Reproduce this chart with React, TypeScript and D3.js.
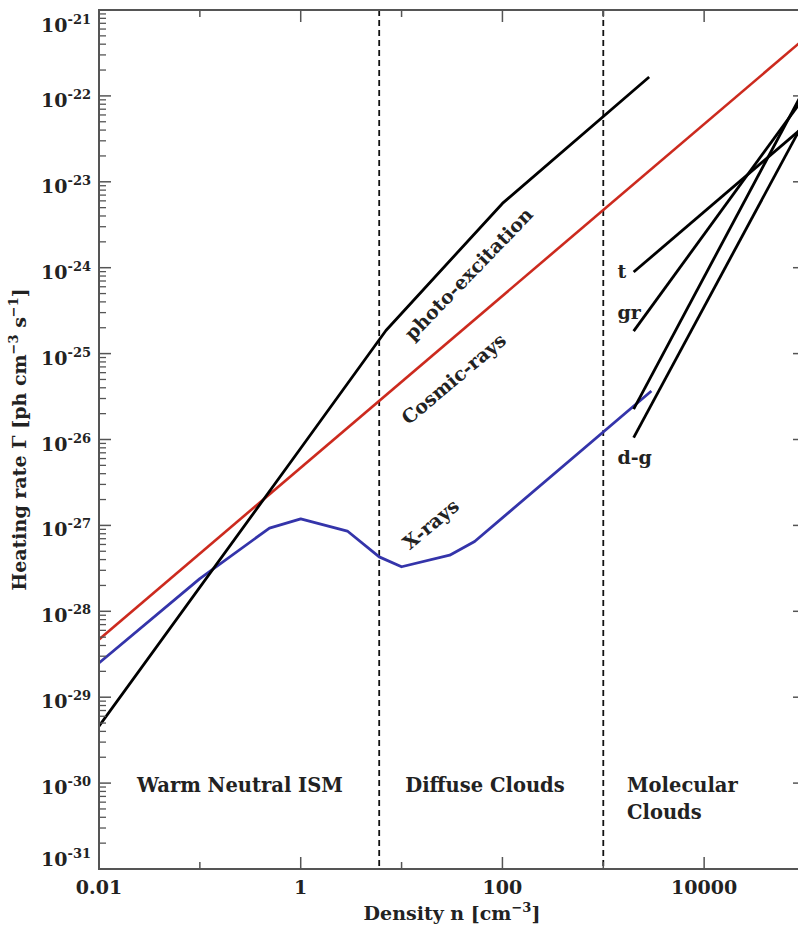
import React, { useEffect, useRef } from 'react';
import * as d3 from 'd3';

// densities [cm^-3] and heating rates [ph cm^-3 s^-1]
const cosmicN = [0.01, 1e5];
const cosmicRate = [4.7e-29, 4.7e-22];

const photoN = [0.01, 1, 7, 100, 2850];
const photoRate = [4.6e-30, 7.9e-27, 1.86e-25, 5.6e-24, 1.66e-22];

const xrayN = [0.01, 0.1, 0.49, 1, 2.9, 6, 10, 30, 53, 3000];
const xrayRate = [2.5e-29, 2.4e-28, 9.3e-28, 1.19e-27, 8.6e-28, 4.3e-28, 3.3e-28, 4.5e-28, 6.5e-28, 3.67e-26];

const molecularN = [2000, 1e5];
const turbulenceRate = [8.9e-25, 4.5e-23];
const grainRate = [1.83e-25, 1.0e-22];
const dustGasRateA = [2.26e-26, 1.24e-22];
const dustGasRateB = [1.05e-26, 5.3e-23];

const regionBounds = [6, 1000];

const xTickValues = [0.01, 0.1, 1, 10, 100, 1000, 10000, 100000];
const xTickLabels = ['0.01', '', '1', '', '100', '', '10000', ''];
const yExponents = [-31, -30, -29, -28, -27, -26, -25, -24, -23, -22, -21];

// curve labels: text, density, rate, angle
const curveLabelText = ['photo-excitation', 'Cosmic-rays', 'X-rays'];
const curveLabelN = [47.5, 33.7, 20];
const curveLabelRate = [8.2e-25, 4.9e-26, 1.0e-27];
const curveLabelAngle = [-46, -40, -40];

// labels of the molecular-cloud lines
const lineLabelText = ['t', 'gr', 'd-g'];
const lineLabelN = [1380, 1380, 1380];
const lineLabelRate = [7.6e-25, 2.5e-25, 5.2e-27];

const W = 798;
const H = 926;
const FONT = '"DejaVu Serif", serif';

const App = () => {
  const ref = useRef<SVGSVGElement>(null);

  useEffect(() => {
    const svg = d3.select(ref.current);
    svg.selectAll('*').remove();

    const left = 99;
    const right = 805;
    const top = 10;
    const bottom = 869;

    const x = d3.scaleLog().domain([0.01, 1e5]).range([left, right]);
    const y = d3.scaleLog().domain([1e-31, 1e-21]).range([bottom, top]);

    svg.append('rect').attr('width', W).attr('height', H).attr('fill', '#fff');

    svg.append('clipPath').attr('id', 'plot-clip')
      .append('rect').attr('x', left).attr('y', top)
      .attr('width', right - left).attr('height', bottom - top);

    const plot = svg.append('g').attr('clip-path', 'url(#plot-clip)');

    // region boundaries
    plot.selectAll('.bound').data(regionBounds).enter().append('line')
      .attr('x1', (d) => x(d)).attr('x2', (d) => x(d))
      .attr('y1', top).attr('y2', bottom)
      .attr('stroke', '#111').attr('stroke-width', 1.8)
      .attr('stroke-dasharray', '6,4');

    const line = d3.line<[number, number]>().x((d) => x(d[0])).y((d) => y(d[1]));
    const zip = (a: number[], b: number[]) => a.map((v, i) => [v, b[i]] as [number, number]);

    const curves = [
      { pts: zip(cosmicN, cosmicRate), color: '#cc2a1e', w: 2.6 },
      { pts: zip(xrayN, xrayRate), color: '#3434aa', w: 2.8 },
      { pts: zip(photoN, photoRate), color: '#000', w: 2.8 },
      { pts: zip(molecularN, turbulenceRate), color: '#000', w: 2.8 },
      { pts: zip(molecularN, grainRate), color: '#000', w: 2.8 },
      { pts: zip(molecularN, dustGasRateA), color: '#000', w: 2.8 },
      { pts: zip(molecularN, dustGasRateB), color: '#000', w: 2.8 },
    ];

    curves.forEach((c) => {
      plot.append('path').attr('d', line(c.pts))
        .attr('fill', 'none').attr('stroke', c.color)
        .attr('stroke-width', c.w).attr('stroke-linejoin', 'round');
    });

    // axes frame
    const axisColor = '#555';
    const axes = svg.append('g').attr('stroke', axisColor).attr('fill', 'none');
    axes.append('rect').attr('x', left).attr('y', top)
      .attr('width', right - left).attr('height', bottom - top)
      .attr('stroke-width', 2);

    // x ticks (bottom + top)
    xTickValues.forEach((v, i) => {
      const len = xTickLabels[i] ? 12 : 7;
      axes.append('line').attr('x1', x(v)).attr('x2', x(v))
        .attr('y1', bottom).attr('y2', bottom - len).attr('stroke-width', 1.5);
      axes.append('line').attr('x1', x(v)).attr('x2', x(v))
        .attr('y1', top).attr('y2', top + len).attr('stroke-width', 1.5);
    });

    // y ticks (left + right)
    yExponents.forEach((e) => {
      const v = Math.pow(10, e);
      [left, right].forEach((edge) => {
        const dir = edge === left ? 1 : -1;
        axes.append('line').attr('x1', edge).attr('x2', edge + dir * 12)
          .attr('y1', y(v)).attr('y2', y(v)).attr('stroke-width', 1.5);
        if (e < -21) {
          d3.range(2, 10).forEach((m) => {
            axes.append('line').attr('x1', edge).attr('x2', edge + dir * 7)
              .attr('y1', y(m * v)).attr('y2', y(m * v)).attr('stroke-width', 1.3);
          });
        }
      });
    });

    const txt = svg.append('g').attr('font-family', FONT).attr('fill', '#222');

    // x tick labels
    xTickValues.forEach((v, i) => {
      if (!xTickLabels[i]) return;
      txt.append('text').attr('x', x(v)).attr('y', 894)
        .attr('text-anchor', 'middle').attr('font-size', 19).attr('font-weight', 'bold')
        .text(xTickLabels[i]);
    });

    // y tick labels
    yExponents.forEach((e) => {
      const ty = Math.min(Math.max(y(Math.pow(10, e)) + 11, 32), 866);
      const t = txt.append('text').attr('x', 91).attr('y', ty)
        .attr('text-anchor', 'end').attr('font-size', 19).attr('font-weight', 'bold');
      t.append('tspan').text('10');
      t.append('tspan').attr('dy', -8).attr('font-size', 13).text(String(e));
    });

    // axis titles
    const xt = txt.append('text').attr('x', (left + right) / 2).attr('y', 920)
      .attr('text-anchor', 'middle').attr('font-size', 19).attr('font-weight', 'bold');
    xt.append('tspan').text('Density n [cm');
    xt.append('tspan').attr('dy', -8).attr('font-size', 13).text('\u22123');
    xt.append('tspan').attr('dy', 8).text(']');

    const yt = txt.append('text')
      .attr('transform', `translate(26,${(top + bottom) / 2}) rotate(-90)`)
      .attr('text-anchor', 'middle').attr('font-size', 19).attr('font-weight', 'bold');
    yt.append('tspan').text('Heating rate \u0393 [ph cm');
    yt.append('tspan').attr('dy', -8).attr('font-size', 13).text('\u22123');
    yt.append('tspan').attr('dy', 8).text(' s');
    yt.append('tspan').attr('dy', -8).attr('font-size', 13).text('\u22121');
    yt.append('tspan').attr('dy', 8).text(']');

    // curve labels
    curveLabelText.forEach((s, i) => {
      txt.append('text')
        .attr('transform', `translate(${x(curveLabelN[i])},${y(curveLabelRate[i])}) rotate(${curveLabelAngle[i]})`)
        .attr('text-anchor', 'middle').attr('dominant-baseline', 'middle')
        .attr('font-size', 19).attr('font-weight', 'bold').text(s);
    });

    // molecular-cloud line labels
    lineLabelText.forEach((s, i) => {
      txt.append('text').attr('x', x(lineLabelN[i])).attr('y', y(lineLabelRate[i]))
        .attr('font-size', 19).attr('font-weight', 'bold').text(s);
    });

    // region labels
    const regionText = [
      { s: 'Warm Neutral ISM', x: 240, y: 792, a: 'middle' },
      { s: 'Diffuse Clouds', x: 485, y: 792, a: 'middle' },
      { s: 'Molecular', x: 627, y: 792, a: 'start' },
      { s: 'Clouds', x: 627, y: 819, a: 'start' },
    ];
    regionText.forEach((r) => {
      txt.append('text').attr('x', r.x).attr('y', r.y).attr('text-anchor', r.a)
        .attr('font-size', 19.5).attr('font-weight', 'bold').text(r.s);
    });
  }, []);

  return (
    <svg
      ref={ref}
      width={W}
      height={H}
      style={{ position: 'absolute', left: 0, top: 0, display: 'block' }}
    />
  );
};

export default App;
